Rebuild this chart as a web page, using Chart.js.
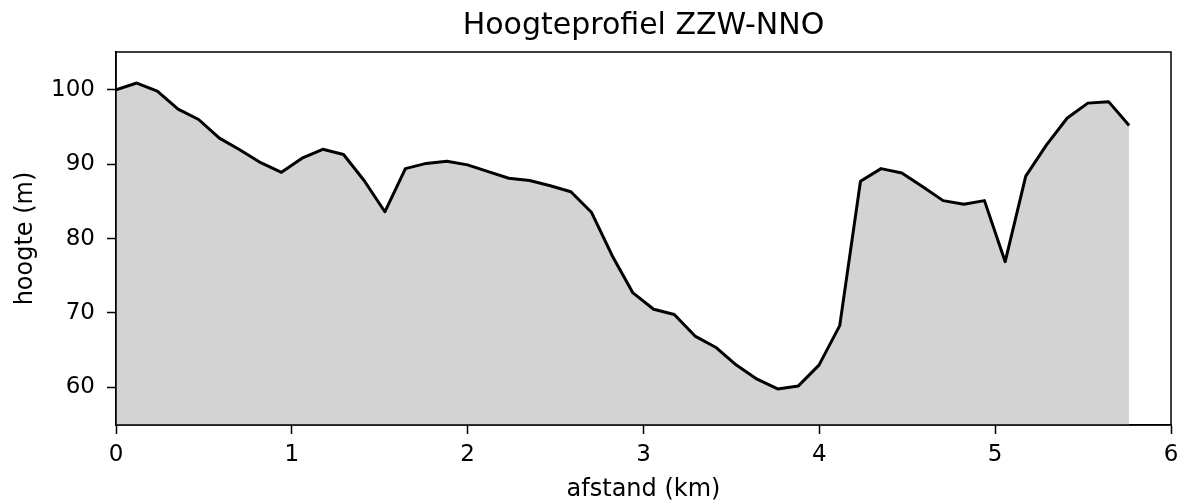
<!DOCTYPE html>
<html lang="nl">
<head>
<meta charset="utf-8">
<title>Hoogteprofiel ZZW-NNO</title>
<script src="https://cdn.jsdelivr.net/npm/chart.js@4/dist/chart.umd.min.js"></script>
<style>
  html, body { margin: 0; padding: 0; background: #fff; }
  #wrap { width: 1186px; height: 504px; }
</style>
</head>
<body>
<div id="wrap"><canvas id="profile"></canvas></div>
<script>
/* ---------------- DATA ---------------- */
const afstandKm = [
  0.000, 0.118, 0.235, 0.353, 0.470, 0.588, 0.706, 0.823, 0.941, 1.058,
  1.176, 1.294, 1.411, 1.529, 1.646, 1.764, 1.882, 1.999, 2.117, 2.234,
  2.352, 2.470, 2.587, 2.705, 2.822, 2.940, 3.058, 3.175, 3.293, 3.410,
  3.528, 3.646, 3.763, 3.881, 3.998, 4.116, 4.234, 4.351, 4.469, 4.586,
  4.704, 4.822, 4.939, 5.057, 5.174, 5.292, 5.410, 5.527, 5.645, 5.762
];
const hoogteM = [
  100.0, 100.9, 99.8, 97.4, 96.0, 93.5, 91.9, 90.2, 88.9, 90.8,
  92.0, 91.3, 87.8, 83.6, 89.4, 90.1, 90.4, 89.9, 89.0, 88.1,
  87.8, 87.1, 86.3, 83.5, 77.7, 72.7, 70.5, 69.8, 66.9, 65.4,
  63.0, 61.1, 59.8, 60.2, 63.0, 68.3, 87.7, 89.4, 88.8, 87.0,
  85.1, 84.6, 85.1, 76.9, 88.4, 92.6, 96.2, 98.2, 98.4, 95.2
];
const xTicks = [0, 1, 2, 3, 4, 5, 6];
const yTicks = [60, 70, 80, 90, 100];
const TITLE  = "Hoogteprofiel ZZW-NNO";

/* --------------- STYLE ---------------- */
const FONT = "'DejaVu Sans', sans-serif";
const INK  = "#000";

/* matplotlib-ish box round the axes + title centred over the axes */
const frame = {
  id: "frame",
  afterDraw(chart) {
    const { ctx, chartArea: a } = chart;
    ctx.save();
    ctx.strokeStyle = INK;
    ctx.lineWidth = 1.5;
    ctx.strokeRect(a.left, a.top, a.right - a.left, a.bottom - a.top);

    ctx.fillStyle = INK;
    ctx.font = `30px ${FONT}`;
    ctx.textAlign = "center";
    ctx.textBaseline = "alphabetic";
    ctx.fillText(TITLE, (a.left + a.right) / 2, 34);
    ctx.restore();
  }
};

/* ---------------- CHART ---------------- */
new Chart(document.getElementById("profile"), {
  type: "line",
  data: {
    datasets: [{
      data: afstandKm.map((d, i) => ({ x: d, y: hoogteM[i] })),
      borderColor: INK,
      borderWidth: 3,
      borderJoinStyle: "round",
      backgroundColor: "#d3d3d3",
      fill: "start",
      pointRadius: 0,
      tension: 0
    }]
  },
  options: {
    responsive: true,
    maintainAspectRatio: false,
    animation: false,
    layout: { padding: { left: 0, right: 15, top: 52, bottom: 0 } },
    plugins: {
      legend: { display: false },
      tooltip: { enabled: false },
      title: { display: false }
    },
    scales: {
      x: {
        type: "linear",
        min: 0, max: 6,
        afterBuildTicks: s => { s.ticks = xTicks.map(v => ({ value: v })); },
        afterFit: s => { s.height = 79; },
        ticks: { color: INK, font: { family: FONT, size: 23 }, padding: 7, maxRotation: 0 },
        grid: { drawOnChartArea: false, drawTicks: true, tickLength: 9, color: INK, tickWidth: 1.5 },
        border: { display: true, color: INK, width: 1.5 },
        title: {
          display: true, text: "afstand (km)", color: INK,
          font: { family: FONT, size: 24 }, padding: { top: 0, bottom: 0 }
        }
      },
      y: {
        min: 54.95, max: 105.07,
        afterBuildTicks: s => { s.ticks = yTicks.map(v => ({ value: v })); },
        afterFit: s => { s.width = 116; },
        ticks: { color: INK, font: { family: FONT, size: 23 }, padding: 12 },
        grid: { drawOnChartArea: false, drawTicks: true, tickLength: 9, color: INK, tickWidth: 1.5 },
        border: { display: true, color: INK, width: 1.5 },
        title: {
          display: true, text: "hoogte (m)", color: INK,
          font: { family: FONT, size: 24 }, padding: { top: 11, bottom: 0 }
        }
      }
    }
  },
  plugins: [frame]
});
</script>
</body>
</html>
